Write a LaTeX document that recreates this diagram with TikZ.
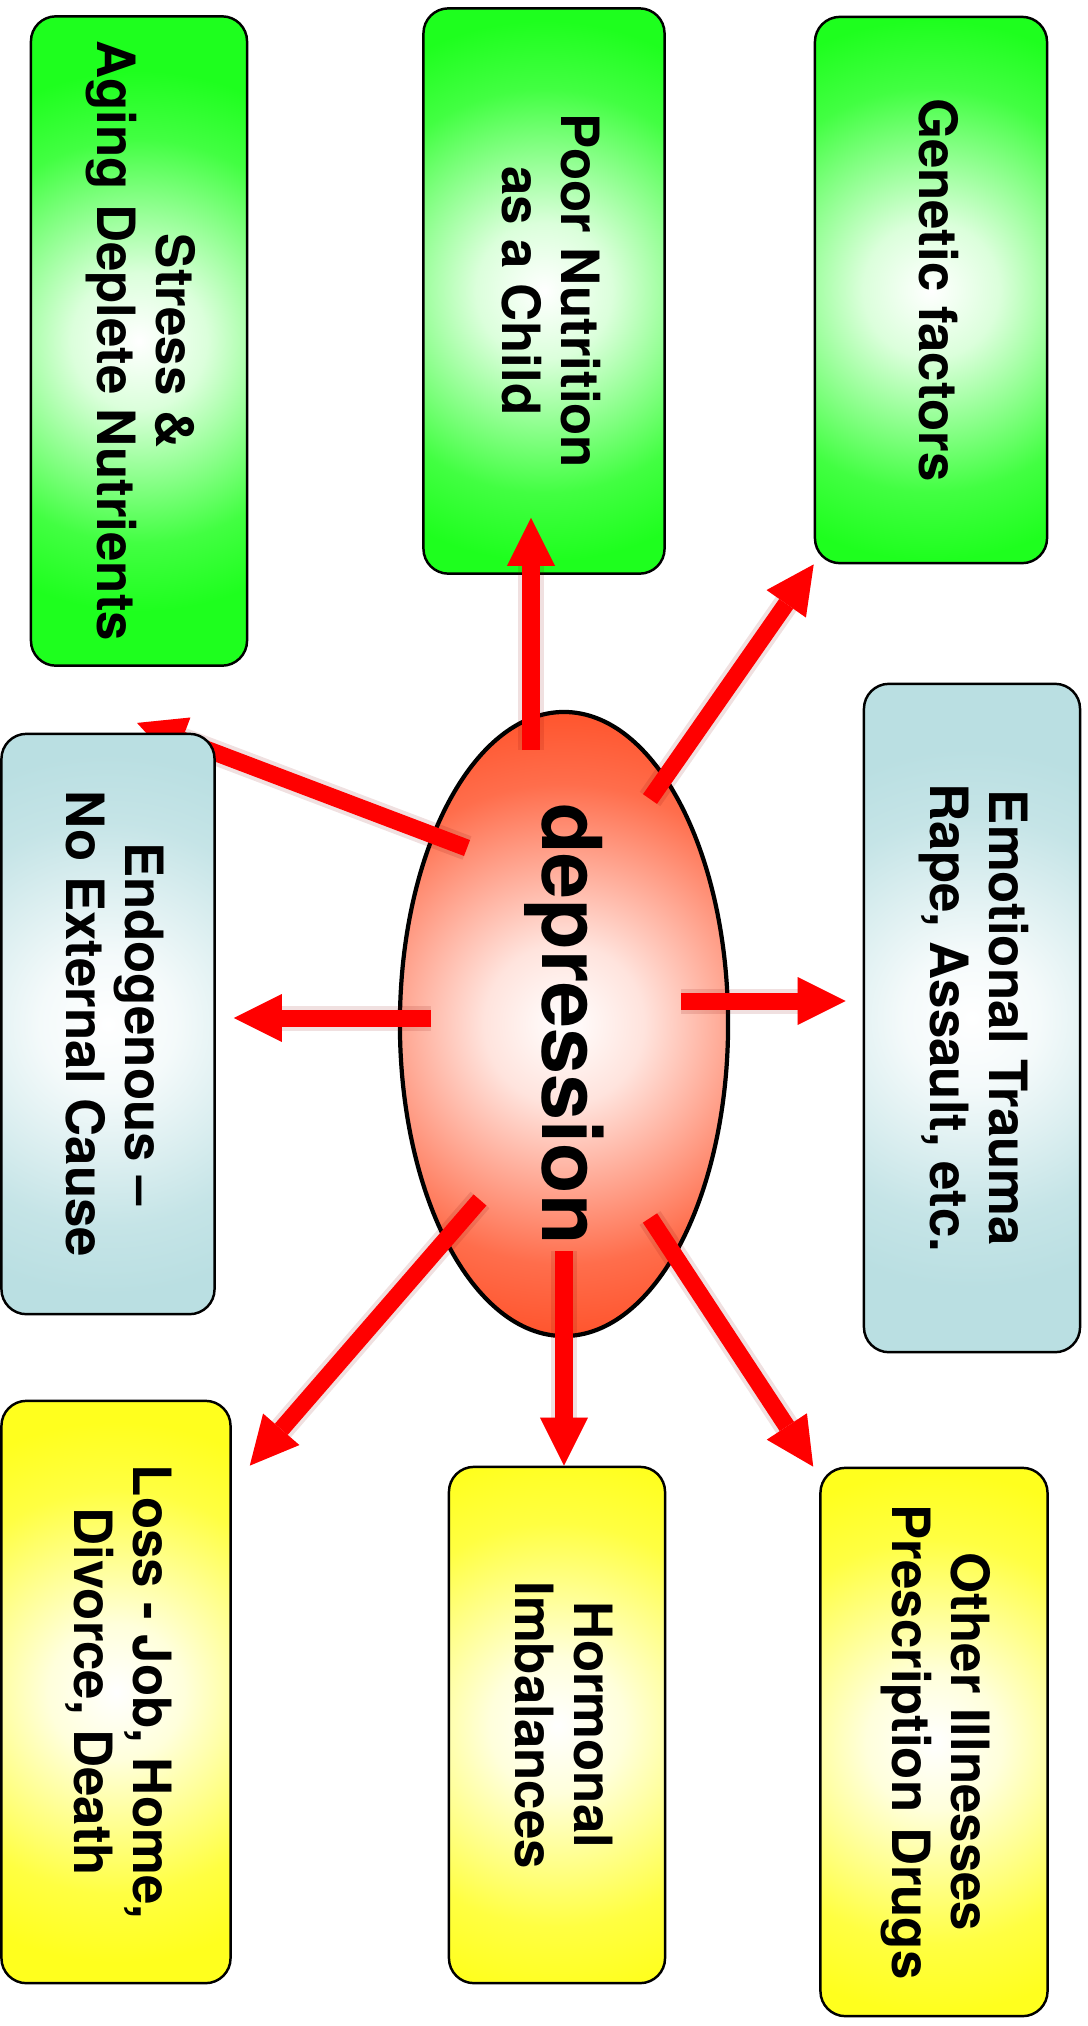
\documentclass[tikz,border=0pt]{standalone}
\usepackage{fontspec}
\usepackage{graphicx}
\setmainfont{TeX Gyre Heros}
\usetikzlibrary{positioning,calc,arrows.meta,shapes.geometric}

\definecolor{causegreen}{RGB}{30,255,30}
\definecolor{causeblue}{RGB}{186,223,226}
\definecolor{causeyellow}{RGB}{255,255,30}
\definecolor{deppink}{RGB}{255,82,42}

% smooth white-to-colour glows (circle of 5cm, ramp ends near 2.7cm / 3.2cm)
\pgfdeclareradialshading{glowgreen}{\pgfpoint{0bp}{0bp}}{color(0bp)=(white); color(3.4bp)=(causegreen!16!white); color(6.75bp)=(causegreen!50!white); color(10.1bp)=(causegreen!84!white); color(13.5bp)=(causegreen); color(50bp)=(causegreen)}
\pgfdeclareradialshading{glowblue}{\pgfpoint{0bp}{0bp}}{color(0bp)=(white); color(3.4bp)=(causeblue!16!white); color(6.75bp)=(causeblue!50!white); color(10.1bp)=(causeblue!84!white); color(13.5bp)=(causeblue); color(50bp)=(causeblue)}
\pgfdeclareradialshading{glowyellow}{\pgfpoint{0bp}{0bp}}{color(0bp)=(white); color(3.4bp)=(causeyellow!16!white); color(6.75bp)=(causeyellow!50!white); color(10.1bp)=(causeyellow!84!white); color(13.5bp)=(causeyellow); color(50bp)=(causeyellow)}
\pgfdeclareradialshading{glowpink}{\pgfpoint{0bp}{0bp}}{color(0bp)=(white); color(4bp)=(deppink!16!white); color(8bp)=(deppink!50!white); color(12bp)=(deppink!84!white); color(16bp)=(deppink); color(50bp)=(deppink)}

\newcommand{\sidewise}[1]{\rotatebox{-90}{\begin{tabular}{@{}c@{}}#1\end{tabular}}}

\tikzset{
  cause/.style={draw=black, line width=0.7pt, rounded corners=0.25cm, inner sep=0pt,
    font=\fontsize{15}{17}\selectfont\bfseries,
    path picture={\fill[shading=glow#1] (path picture bounding box.center) circle (5cm);}},
  centre/.style={ellipse, draw=black, line width=1.2pt, inner sep=0pt,
    font=\fontsize{23.5}{26}\selectfont\bfseries,
    path picture={\fill[shading=glowpink] (path picture bounding box.center) circle (5cm);}},
  arrow/.style={draw=red, line width=0.17cm, -{Triangle[length=0.48cm, width=0.48cm, line width=0pt]},
    preaction={draw=red!50!black, opacity=0.12, line width=0.25cm}}
}

\pgfdeclarelayer{front}
\pgfsetlayers{main,front}

\begin{document}
\begin{tikzpicture}[x=0.01cm, y=-0.01cm]
\useasboundingbox (0,0) rectangle (1088,2026);

% Top row: green causes
\node (stress) [cause=green, minimum width=2.16cm, minimum height=6.49cm] at (139,341) {\sidewise{Stress \&\\Aging Deplete Nutrients}};
\node (nutr) [cause=green, minimum width=2.41cm, minimum height=5.65cm] at (544,291) {\sidewise{Poor Nutrition\\as a Child}};
\node (gene) [cause=green, minimum width=2.32cm, minimum height=5.46cm] at (931,290) {\sidewise{Genetic factors}};

% Middle row: blue causes
\begin{pgfonlayer}{front}
\node (endo) [cause=blue, minimum width=2.13cm, minimum height=5.80cm] at (108,1024) {\sidewise{Endogenous --\\No External Cause}};
\end{pgfonlayer}
\node (trauma) [cause=blue, minimum width=2.16cm, minimum height=6.68cm] at (972,1018) {\sidewise{Emotional Trauma\\Rape, Assault, etc.}};

% Bottom row: yellow causes
\node (loss) [cause=yellow, minimum width=2.29cm, minimum height=5.82cm] at (116,1692) {\sidewise{Loss - Job, Home,\\Divorce, Death}};
\node (horm) [cause=yellow, minimum width=2.16cm, minimum height=5.16cm] at (557,1725) {\sidewise{Hormonal\\Imbalances}};
\node (other) [cause=yellow, minimum width=2.27cm, minimum height=5.48cm] at (934,1742) {\sidewise{Other Illnesses\\Prescription Drugs}};

% Centre
\node (dep) [centre, minimum width=3.28cm, minimum height=6.18cm] at (564,1024) {\rotatebox{-90}{depression}};

% Arrow tails inside the ellipse
\coordinate (t-nutr) at ($(dep)+(-33,-274)$);
\coordinate (t-gene) at ($(dep)+(86,-225)$);
\coordinate (t-stress) at ($(dep)+(-97,-176)$);
\coordinate (t-endo) at ($(dep)+(-133,-6)$);
\coordinate (t-trauma) at ($(dep)+(117,-23)$);
\coordinate (t-loss) at ($(dep)+(-84,176)$);
\coordinate (t-horm) at ($(dep)+(0,227)$);
\coordinate (t-other) at ($(dep)+(86,194)$);

% Arrows
\draw [arrow] (t-nutr) -- ($(nutr.south)+(-13,-57)$);
\draw [arrow] (t-gene) -- (gene.south west);
\draw [arrow] (t-stress) -- ($(stress.south)+(-2,56)$);
\draw [arrow] (t-endo) -- ($(endo.east)+(18,-6)$);
\draw [arrow] (t-trauma) -- ($(trauma.west)+(-17,-17)$);
\draw [arrow] (t-loss) -- ($(loss.north east)+(18,66)$);
\draw [arrow] (t-horm) -- ($(horm.north)+(7,0)$);
\draw [arrow] (t-other) -- ($(other.north west)+(-6,0)$);

\end{tikzpicture}
\end{document}
